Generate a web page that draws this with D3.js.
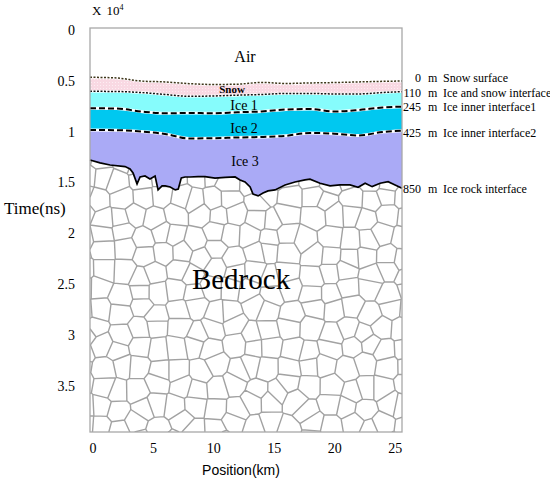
<!DOCTYPE html>
<html lang="en">
<head>
<meta charset="UTF-8" />
<title>Ice layers over bedrock</title>
<script src="https://d3js.org/d3.v7.min.js"></script>
<style>
  body { margin: 0; background: #fff; }
  svg text { font-family: "Liberation Serif", "Times New Roman", serif; fill: #000; }
</style>
</head>
<body>
<div id="chart"></div>
<script>
// positions (km) shared by the smooth interfaces
const positions = [-0.2, 2, 4, 6, 8, 10, 12, 14, 16, 18, 20, 22, 24, 25.6];

// two-way time (x 10^4 ns) of each interface
const snowSurface = [0.484, 0.491, 0.521, 0.530, 0.547, 0.555, 0.552, 0.535, 0.545, 0.540, 0.536, 0.530, 0.524, 0.521];
const snowIce     = [0.622, 0.624, 0.634, 0.653, 0.671, 0.668, 0.660, 0.653, 0.643, 0.643, 0.648, 0.648, 0.634, 0.626];
const iceInner1   = [0.789, 0.791, 0.820, 0.838, 0.835, 0.838, 0.828, 0.820, 0.801, 0.796, 0.820, 0.806, 0.781, 0.773];
const iceInner2   = [1.002, 1.004, 1.017, 1.041, 1.085, 1.083, 1.076, 1.071, 1.059, 1.031, 1.038, 1.056, 1.022, 1.009];

// the ice / rock interface is rough, so it has its own positions
const rockPos  = [-0.2, 0.63, 1.46, 2.70, 3.11, 3.36, 3.69, 3.94, 4.35, 4.76, 5.18, 5.43, 5.76, 6.02, 6.43, 6.85,
                  7.10, 7.35, 7.66, 8.07, 8.73, 9.31, 10.14, 10.97, 11.80, 12.21, 12.62, 13.04, 13.28, 13.70, 14.11,
                  14.52, 15.10, 15.93, 16.75, 17.58, 17.99, 18.82, 19.65, 20.47, 21.30, 21.97, 22.55, 23.13, 23.79,
                  24.45, 25.03, 25.6];
const rockTime = [1.297, 1.326, 1.346, 1.362, 1.385, 1.424, 1.532, 1.464, 1.454, 1.483, 1.454, 1.591, 1.552, 1.552, 1.562, 1.591,
                  1.582, 1.473, 1.464, 1.464, 1.461, 1.461, 1.476, 1.467, 1.464, 1.493, 1.513, 1.562, 1.631, 1.650, 1.621,
                  1.601, 1.591, 1.542, 1.513, 1.493, 1.486, 1.526, 1.552, 1.542, 1.542, 1.565, 1.526, 1.559, 1.526,
                  1.510, 1.542, 1.575];

const depths = [0, 110, 245, 425, 850];
const interfaceNames = ["Snow surface", "Ice and snow interface", "Ice inner interface1", "Ice inner interface2", "Ice rock interface"];

const xTicks = [0, 5, 10, 15, 20, 25];
const yTicks = [0, 0.5, 1, 1.5, 2, 2.5, 3, 3.5];

const width = 550, height = 485;
const x = d3.scaleLinear().domain([-0.2, 25.6]).range([90, 402]);
const y = d3.scaleLinear().domain([0, 3.97]).range([28, 432]);

const svg = d3.select("#chart").append("svg")
  .attr("width", width)
  .attr("height", height);

const defs = svg.append("defs");
const snowPat = defs.append("pattern")
  .attr("id", "snow-dots")
  .attr("width", 3).attr("height", 3)
  .attr("patternUnits", "userSpaceOnUse");
snowPat.append("rect").attr("width", 3).attr("height", 3).attr("fill", "#f9d9e3");
snowPat.append("rect").attr("x", 1).attr("y", 1).attr("width", 1).attr("height", 1).attr("fill", "#fdeef3");

const bottom = y.domain()[1];
const toPts = (xs, ys) => xs.map((p, i) => [p, ys[i]]);

// each layer is filled from its top interface to the bottom, painted in order
const fillArea = d3.area()
  .x(d => x(d[0]))
  .y0(y(bottom))
  .y1(d => y(d[1]))
  .curve(d3.curveMonotoneX);

const layers = [
  { pts: toPts(positions, snowSurface), fill: "url(#snow-dots)" },
  { pts: toPts(positions, snowIce), fill: "#86fcfc" },
  { pts: toPts(positions, iceInner1), fill: "#00c8f0" },
  { pts: toPts(positions, iceInner2), fill: "#aaaaf6" }
];

svg.append("g").selectAll("path")
  .data(layers)
  .join("path")
  .attr("d", d => fillArea(d.pts))
  .attr("fill", d => d.fill);

// bedrock: white with a cracked (voronoi) texture
const rockPts = toPts(rockPos, rockTime);
const rockArea = d3.area()
  .x(d => x(d[0]))
  .y0(y(bottom))
  .y1(d => y(d[1]));

defs.append("clipPath").attr("id", "rock-clip")
  .append("path").attr("d", rockArea(rockPts));

svg.append("path").attr("d", rockArea(rockPts)).attr("fill", "#fff");

// texture seeds on a jittered grid (fixed seed, decoration only)
const rnd = d3.randomLcg(0.37);
const seeds = [];
const step = 19;
for (let gy = 140; gy < 450; gy += step) {
  for (let gx = 82; gx < 412; gx += step) {
    seeds.push([gx + (rnd() - 0.5) * 12, gy + (rnd() - 0.5) * 12]);
  }
}
const voronoi = d3.Delaunay.from(seeds).voronoi([x.range()[0], y.range()[0], x.range()[1], y.range()[1]]);
svg.append("path")
  .attr("clip-path", "url(#rock-clip)")
  .attr("d", voronoi.render())
  .attr("fill", "none")
  .attr("stroke", "#a2a2a2")
  .attr("stroke-width", 1.4);

// interface lines
const line = d3.line().x(d => x(d[0])).y(d => y(d[1])).curve(d3.curveMonotoneX);

const drawLine = (pts, color, dash, w) => {
  svg.append("path").attr("d", line(pts))
    .attr("fill", "none").attr("stroke", "#fff").attr("stroke-width", w + 1);
  svg.append("path").attr("d", line(pts))
    .attr("fill", "none").attr("stroke", color)
    .attr("stroke-width", w).attr("stroke-dasharray", dash);
};
drawLine(toPts(positions, snowSurface), "#3d3418", "2,1.5", 1.5);
drawLine(toPts(positions, snowIce), "#111", "2,1.5", 1.5);
drawLine(toPts(positions, iceInner1), "#000", "6,3", 2);
drawLine(toPts(positions, iceInner2), "#000", "6,3", 2);

svg.append("path")
  .attr("d", d3.line().x(d => x(d[0])).y(d => y(d[1]))(rockPts))
  .attr("fill", "none")
  .attr("stroke", "#000")
  .attr("stroke-width", 1.7);

// plot frame
svg.append("rect")
  .attr("x", x.range()[0]).attr("y", y.range()[0])
  .attr("width", x.range()[1] - x.range()[0])
  .attr("height", y.range()[1] - y.range()[0])
  .attr("fill", "none")
  .attr("stroke", "#a8a8a8")
  .attr("stroke-width", 1.3);

// axes
const yAxis = svg.append("g")
  .attr("transform", `translate(${x.range()[0]},0)`)
  .call(d3.axisLeft(y).tickValues(yTicks).tickSize(0).tickPadding(15).tickFormat(d3.format("")));
yAxis.selectAll("text").attr("dy", "0.45em");
const xAxis = svg.append("g")
  .attr("transform", `translate(0,${y.range()[1]})`)
  .call(d3.axisBottom(x).tickValues(xTicks).tickSize(0).tickPadding(11));
[yAxis, xAxis].forEach(g => {
  g.select(".domain").remove();
  g.selectAll("text")
    .attr("font-family", "Liberation Serif, Times New Roman, serif")
    .attr("font-size", 14);
});

svg.append("text")
  .attr("x", 4).attr("y", 214)
  .attr("font-size", 17)
  .text("Time(ns)");

svg.append("text")
  .attr("x", 241).attr("y", 475)
  .attr("text-anchor", "middle")
  .style("font-family", "Liberation Sans, Arial, sans-serif")
  .attr("font-size", 14)
  .text("Position(km)");

const mult = svg.append("text").attr("x", 92).attr("y", 15).attr("font-size", 13);
mult.append("tspan").text("X");
mult.append("tspan").attr("dx", 5).text("10");
mult.append("tspan").attr("dy", -5).attr("font-size", 8).text("4");

// layer names
const layerLabels = [
  { t: "Air", k: 12.62, v: 0.339, s: 16, w: "normal" },
  { t: "Snow", k: 11.55, v: 0.639, s: 11, w: "bold" },
  { t: "Ice 1", k: 12.54, v: 0.810, s: 14, w: "normal" },
  { t: "Ice 2", k: 12.54, v: 1.031, s: 14, w: "normal" },
  { t: "Ice 3", k: 12.62, v: 1.356, s: 14, w: "normal" },
  { t: "Bedrock", k: 12.29, v: 2.564, s: 29, w: "normal" }
];
svg.append("g").selectAll("text")
  .data(layerLabels)
  .join("text")
  .attr("x", d => x(d.k))
  .attr("y", d => y(d.v))
  .attr("text-anchor", "middle")
  .attr("font-size", d => d.s)
  .attr("font-weight", d => d.w)
  .text(d => d.t);

// interface labels on the right, next to where each line ends
const lineEnds = [snowSurface, snowIce, iceInner1, iceInner2, rockTime].map(a => a[a.length - 1]);
const offsets = [1, 5, 4, 6, 4.5];
const right = svg.append("g").attr("font-size", 12);
depths.forEach((dep, i) => {
  const ty = y(lineEnds[i]) + offsets[i];
  right.append("text").attr("x", 421).attr("y", ty).attr("text-anchor", "end").text(dep);
  right.append("text").attr("x", 428).attr("y", ty).text("m");
  right.append("text").attr("x", 443).attr("y", ty).text(interfaceNames[i]);
});
</script>
</body>
</html>
